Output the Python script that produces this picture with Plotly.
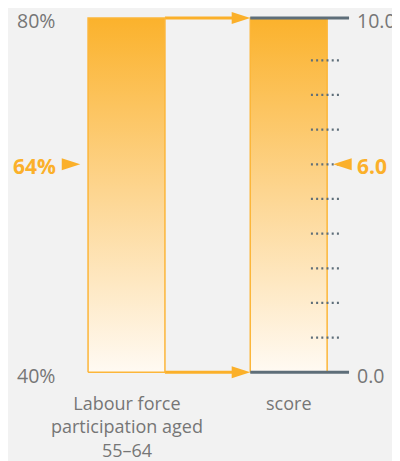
import plotly.graph_objects as go

categories = ["Labour force participation aged 55–64", "score"]
label_lines = [["Labour force", "participation aged", "55–64"], ["score"]]
axis_min = [40, 0.0]
axis_max = [80, 10.0]
values = [64, 6.0]
value_fmt = ["{:.0f}%", "{:.1f}"]
score_ticks = [1, 2, 3, 4, 5, 6, 7, 8, 9]

ORANGE = "#fbb02a"
SLATE = "#5e6e79"
GREY_TEXT = "#767676"
BG = "#f2f2f2"
FONT = "Open Sans"

HALF = 0.237   # half bar width in category units
PAD = 0.022    # bars run a little past the top of their scale
yrefs = ["y2", "y"]

fig = go.Figure()

tops = []
for i, cat in enumerate(categories):
    lo = axis_min[i]
    hi = axis_max[i] + (axis_max[i] - axis_min[i]) * PAD
    tops.append(hi)
    fig.add_trace(go.Scatter(
        x=[i - HALF, i + HALF, i + HALF, i - HALF, i - HALF],
        y=[lo, lo, hi, hi, lo],
        yaxis=yrefs[i], mode="lines", fill="toself",
        line=dict(color="#fcb63a", width=1.5),
        fillgradient=dict(type="vertical", start=lo, stop=hi,
                          colorscale=[[0, "#fffaf3"], [0.5, "#fdd692"], [1, "#fbb22c"]]),
        hoverinfo="skip", showlegend=False, name=cat))

s_lo, s_hi = axis_min[1], tops[1]

# slate min/max rules on the score scale
for yv in [s_lo, s_hi]:
    fig.add_trace(go.Scatter(x=[1 - HALF, 1.372], y=[yv, yv], mode="lines",
                             line=dict(color=SLATE, width=3), hoverinfo="skip", showlegend=False))

# dotted score ticks
dx, dy = [], []
for t in score_ticks:
    dx += [1.137, 1.329, None]
    dy += [t, t, None]
fig.add_trace(go.Scatter(x=dx, y=dy, mode="lines",
                         line=dict(color=SLATE, width=2.3, dash="2px,3.2px"),
                         hoverinfo="skip", showlegend=False))

# connecting arrows between the two scales
for yv in [s_lo, s_hi]:
    fig.add_trace(go.Scatter(x=[HALF, 1 - HALF - 0.06], y=[yv, yv], mode="lines",
                             line=dict(color=ORANGE, width=3), hoverinfo="skip", showlegend=False))
fig.add_trace(go.Scatter(x=[1 - HALF, 1 - HALF], y=[s_lo, s_hi], mode="markers",
                         marker=dict(symbol="arrow", angle=90, size=19.5, color=ORANGE,
                                     line=dict(width=0)),
                         hoverinfo="skip", showlegend=False))

# value pointers
fig.add_trace(go.Scatter(x=[-HALF - 0.048], y=[values[0]], yaxis="y2", mode="markers",
                         marker=dict(symbol="arrow", angle=90, size=19.5, color=ORANGE,
                                     line=dict(width=0)),
                         hoverinfo="skip", showlegend=False))
fig.add_trace(go.Scatter(x=[1 + HALF + 0.037], y=[values[1]], mode="markers",
                         marker=dict(symbol="arrow", angle=-90, size=19.5, color=ORANGE,
                                     line=dict(width=0)),
                         hoverinfo="skip", showlegend=False))

ann = []
# scale end labels
for i in range(2):
    for v, yv in [(axis_max[i], tops[i]), (axis_min[i], axis_min[i])]:
        if i == 0:
            ann.append(dict(x=-0.556, y=yv, yref=yrefs[i], text=value_fmt[i].format(v),
                            xanchor="center", yanchor="middle", yshift=-3,
                            font=dict(size=19.5, color=GREY_TEXT)))
        else:
            ann.append(dict(x=1.41, y=yv, yref=yrefs[i], text=value_fmt[i].format(v),
                            xanchor="left", yanchor="middle", yshift=-3,
                            font=dict(size=19.5, color=GREY_TEXT)))

# value labels
ann.append(dict(x=-0.565, y=values[0], yref="y2", text="<b>" + value_fmt[0].format(values[0]) + "</b>",
                xanchor="center", yanchor="middle", yshift=-2,
                font=dict(size=21, color=ORANGE)))
ann.append(dict(x=1.41, y=values[1], yref="y", text="<b>" + value_fmt[1].format(values[1]) + "</b>",
                xanchor="left", yanchor="middle", yshift=-2,
                font=dict(size=21, color=ORANGE)))

# category labels
for i, lines in enumerate(label_lines):
    ann.append(dict(x=i, y=axis_min[i], yref=yrefs[i], text="<br>".join(lines),
                    xanchor="center", yanchor="top", yshift=-17,
                    font=dict(size=18, color=GREY_TEXT)))

for a in ann:
    a.update(xref="x", showarrow=False)

# ranges are set so the marks land where they should once the page's
# default 8px body margin is taken into account
fig.update_layout(
    width=400, height=461,
    margin=dict(l=0, r=0, t=0, b=0),
    paper_bgcolor=BG, plot_bgcolor=BG,
    font=dict(family=FONT),
    xaxis=dict(range=[-0.7306, 1.7355], visible=False, fixedrange=True),
    yaxis=dict(range=[-2.789, 10.508], visible=False, fixedrange=True),
    yaxis2=dict(range=[28.843, 82.033], overlaying="y", visible=False, fixedrange=True),
    annotations=ann,
    showlegend=False,
)

fig.write_html("out.html")
